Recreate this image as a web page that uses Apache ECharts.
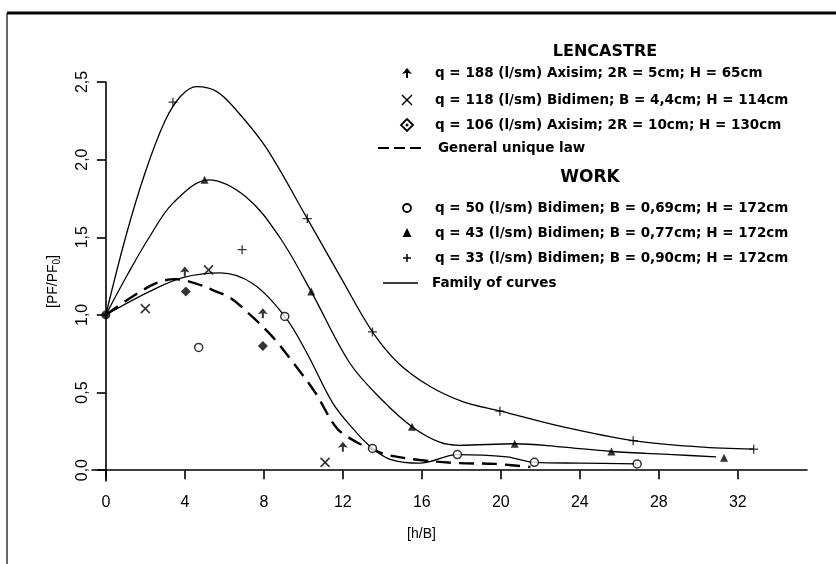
<!DOCTYPE html>
<html>
<head>
<meta charset="utf-8">
<script src="https://cdn.jsdelivr.net/npm/echarts@6/dist/echarts.min.js"></script>
<style>html,body{margin:0;padding:0;background:#fff}#c{width:836px;height:564px}</style>
</head>
<body>
<div id="c"></div>
<script>
// ---- data ----
const xTicks = [0, 4, 8, 12, 16, 20, 24, 28, 32];
const yTicks = [0, 0.5, 1.0, 1.5, 2.0, 2.5];

// Family of curves (solid)
const curveTop = [[0,1.0],[1.0,1.5],[2.0,1.92],[3.0,2.25],[3.8,2.41],[4.6,2.47],[5.6,2.44],[6.6,2.32],[8.1,2.08],[10.2,1.62],[11.9,1.24],[13.5,0.89],[14.8,0.69],[16.4,0.54],[18.1,0.44],[20,0.38],[23.1,0.28],[26.7,0.19],[30,0.15],[32.8,0.135]];
const curveMid = [[0,1.0],[1.1,1.26],[2.2,1.5],[3.4,1.72],[5.2,1.87],[7.1,1.76],[8.8,1.5],[10.4,1.15],[12.35,0.69],[14.0,0.45],[15.5,0.28],[16.9,0.18],[17.9,0.16],[20.7,0.17],[23,0.15],[25.6,0.12],[28.7,0.1],[30.9,0.085]];
const curveLow = [[0,1.0],[2.2,1.15],[3.9,1.24],[5.8,1.27],[7.45,1.2],[9.06,0.99],[10.2,0.75],[11.5,0.43],[12.7,0.24],[13.5,0.14],[14.4,0.07],[15.9,0.045],[17.8,0.1],[20.3,0.085],[21.7,0.05],[24,0.045],[26.9,0.04]];
// General unique law (dashed)
const generalLaw = [[0,1.0],[2.3,1.19],[3.5,1.23],[4.6,1.2],[5.6,1.15],[6.3,1.11],[7.4,0.99],[8.5,0.85],[9.5,0.69],[10.6,0.5],[11.7,0.27],[12.7,0.18],[13.4,0.14],[14.2,0.1],[15.9,0.065],[17.9,0.045],[19.7,0.04],[21.5,0.02]];

// LENCASTRE points
const len188 = [[4.0,1.28],[7.95,1.01],[12.0,0.15]];
const len118 = [[2.0,1.04],[5.2,1.29],[11.1,0.05]];
const len106 = [[4.05,1.15],[7.95,0.80]];
// WORK points
const work50 = [[4.7,0.79],[9.06,0.99],[13.5,0.14],[17.8,0.10],[21.7,0.05],[26.9,0.04]];
const work43 = [[5.0,1.87],[10.4,1.15],[15.5,0.28],[20.7,0.17],[25.6,0.12],[31.3,0.08]];
const work33 = [[3.4,2.37],[6.9,1.42],[10.2,1.62],[13.5,0.89],[19.95,0.38],[26.7,0.19],[32.8,0.135]];
const origin = [[0,1.0]];

const lencastreLabels = ['q = 188 (l/sm) Axisim; 2R = 5cm; H = 65cm','q = 118 (l/sm) Bidimen; B = 4,4cm; H = 114cm','q = 106 (l/sm) Axisim; 2R = 10cm; H = 130cm','General unique law'];
const workLabels = ['q = 50 (l/sm) Bidimen; B = 0,69cm; H = 172cm','q = 43 (l/sm) Bidimen; B = 0,77cm; H = 172cm','q = 33 (l/sm) Bidimen; B = 0,90cm; H = 172cm','Family of curves'];

// ---- chart ----
const K = '#000';
const arrowPath = 'path://M5,0L10,6L6,5L6,10L4,10L4,5L0,6Z';
const plusPath = 'path://M5,0L5,10M0,5L10,5';
const crossPath = 'path://M0,0L10,10M0,10L10,0';

function curve(name, data, dashed) {
  return {type:'line', name, data, smooth:0.35, showSymbol:false, silent:true,
    lineStyle: dashed ? {color:K, width:2.4, type:[15,8]} : {color:K, width:1.3}, z:2};
}
function pts(name, data, symbol, size, style) {
  return {type:'scatter', name, data, symbol, symbolSize:size, itemStyle:style, z:3};
}

const chart = echarts.init(document.getElementById('c'));
const LX = 407, TX = 435;
const lenRows = [73, 100, 125, 148];
const workRows = [208, 233, 258, 283];
const tStyle = {fill:K, font:'bold 13.5px "DejaVu Sans"', textVerticalAlign:'middle'};

const graphic = [
  {type:'line', shape:{x1:7,y1:13,x2:836,y2:13}, style:{stroke:K, lineWidth:3}},
  {type:'line', shape:{x1:7,y1:13,x2:7,y2:564}, style:{stroke:K, lineWidth:1.2}},
  {type:'text', x:605, y:52, style:{text:'LENCASTRE', fill:K, font:'bold 16px "DejaVu Sans"', textAlign:'center', textVerticalAlign:'middle'}},
  {type:'text', x:590, y:178, style:{text:'WORK', fill:K, font:'bold 17px "DejaVu Sans"', textAlign:'center', textVerticalAlign:'middle'}},
  // legend markers
  {type:'polygon', shape:{points:[[LX,lenRows[0]-5],[LX+5,lenRows[0]+1],[LX+1,lenRows[0]],[LX+1,lenRows[0]+5],[LX-1,lenRows[0]+5],[LX-1,lenRows[0]],[LX-5,lenRows[0]+1]]}, style:{fill:K}},
  {type:'line', shape:{x1:LX-5,y1:lenRows[1]-5,x2:LX+5,y2:lenRows[1]+5}, style:{stroke:K,lineWidth:1.5}},
  {type:'line', shape:{x1:LX-5,y1:lenRows[1]+5,x2:LX+5,y2:lenRows[1]-5}, style:{stroke:K,lineWidth:1.5}},
  {type:'polygon', shape:{points:[[LX,lenRows[2]-6],[LX+6,lenRows[2]],[LX,lenRows[2]+6],[LX-6,lenRows[2]]]}, style:{fill:'#fff', stroke:K, lineWidth:1.8}},
  {type:'circle', shape:{cx:LX, cy:lenRows[2], r:1.5}, style:{fill:K}},
  {type:'line', shape:{x1:378,y1:lenRows[3],x2:425,y2:lenRows[3]}, style:{stroke:K,lineWidth:2.2,lineDash:[11,5]}},
  {type:'circle', shape:{cx:LX, cy:workRows[0], r:4}, style:{fill:'#fff', stroke:K, lineWidth:1.8}},
  {type:'polygon', shape:{points:[[LX,workRows[1]-5],[LX+4.5,workRows[1]+4],[LX-4.5,workRows[1]+4]]}, style:{fill:K}},
  {type:'line', shape:{x1:LX-4,y1:workRows[2],x2:LX+4,y2:workRows[2]}, style:{stroke:K,lineWidth:1.5}},
  {type:'line', shape:{x1:LX,y1:workRows[2]-4,x2:LX,y2:workRows[2]+4}, style:{stroke:K,lineWidth:1.5}},
  {type:'line', shape:{x1:383,y1:workRows[3],x2:418,y2:workRows[3]}, style:{stroke:K,lineWidth:1.3}}
];
lencastreLabels.forEach((t,i)=>graphic.push({type:'text', x: i===3 ? 438 : TX, y:lenRows[i], style:Object.assign({text:t}, tStyle)}));
workLabels.forEach((t,i)=>graphic.push({type:'text', x: i===3 ? 432 : TX, y:workRows[i], style:Object.assign({text:t}, tStyle)}));

const axisFont = {color:K, fontFamily:'Liberation Sans', fontSize:16};
chart.setOption({
  backgroundColor:'#fff',
  animation:false,
  grid:{left:92, right:29, top:82, bottom:83, outerBoundsMode:'none', containLabel:false},
  xAxis:{type:'value', min:-0.7, max:35.5,
    name:'[h/B]', nameLocation:'middle', nameGap:46, nameMoveOverlap:false,
    nameTextStyle:{color:K, fontFamily:'Liberation Sans', fontSize:14, padding:[0,56,0,0]},
    axisLine:{onZero:true, lineStyle:{color:K, width:1.6}},
    axisTick:{customValues:xTicks, length:9, lineStyle:{color:K, width:1.6}},
    axisLabel:Object.assign({customValues:xTicks, margin:14}, axisFont),
    splitLine:{show:false}},
  yAxis:{type:'value', min:-0.07, max:2.5,
    name:'[PF/PF{s|0}]', nameLocation:'middle', nameRotate:90, nameGap:30, nameMoveOverlap:false,
    nameTextStyle:{color:K, fontFamily:'Liberation Sans', fontSize:14, rich:{s:{fontSize:10, fontFamily:'Liberation Sans', color:K, padding:[8,0,0,0]}}},
    axisLine:{onZero:true, lineStyle:{color:K, width:1.6}},
    axisTick:{customValues:yTicks, length:9, lineStyle:{color:K, width:1.6}},
    axisLabel:Object.assign({customValues:yTicks, margin:1, rotate:90, formatter:v=>v.toFixed(1).replace('.',',')}, axisFont),
    splitLine:{show:false}},
  graphic:graphic,
  series:[
    curve('Family of curves', curveTop),
    curve('Family of curves 2', curveMid),
    curve('Family of curves 3', curveLow),
    curve('General unique law', generalLaw, true),
    pts(lencastreLabels[0], len188, arrowPath, 10, {color:K}),
    pts(lencastreLabels[1], len118, crossPath, 9, {color:'transparent', borderColor:K, borderWidth:1.6}),
    pts(lencastreLabels[2], len106, 'diamond', 10, {color:K}),
    pts(workLabels[0], work50, 'circle', 8, {color:'#fff', borderColor:K, borderWidth:1.5}),
    pts(workLabels[1], work43, 'triangle', 8, {color:K}),
    pts(workLabels[2], work33, plusPath, 9, {color:'transparent', borderColor:K, borderWidth:1.3}),
    pts('origin', origin, 'circle', 9, {color:K})
  ]
});
</script>
</body>
</html>
